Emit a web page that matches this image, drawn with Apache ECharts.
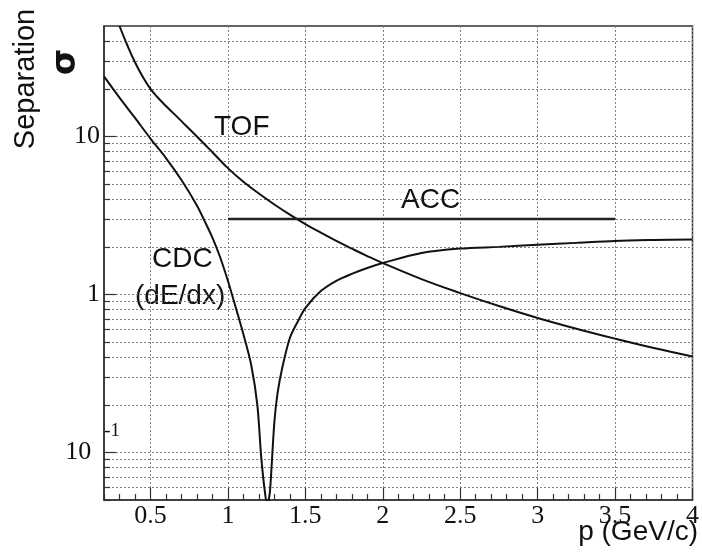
<!DOCTYPE html>
<html>
<head>
<meta charset="utf-8">
<title>Separation vs momentum</title>
<script src="https://cdn.jsdelivr.net/npm/echarts@6/dist/echarts.min.js"></script>
<style>
    html, body { margin: 0; padding: 0; background: #fff; }
    #main { width: 702px; height: 553px; }
</style>
</head>
<body>
<div id="main"></div>
<script>
// values: momentum p (GeV/c) and separation (sigma)
var tofP = [0.3, 0.35, 0.4, 0.45, 0.5, 0.55, 0.6, 0.7, 0.8, 0.9, 1.0, 1.1, 1.2, 1.3, 1.4, 1.5,
    1.6, 1.7, 1.8, 1.9, 2.0, 2.25, 2.5, 2.75, 3.0, 3.25, 3.5, 3.75, 4.0];
var tofSigma = [50, 37.9, 29.5, 23.9, 20, 17.5, 15.6, 12.5, 10, 7.95, 6.3, 5.16, 4.35, 3.71, 3.2, 2.79,
    2.46, 2.18, 1.95, 1.75, 1.58, 1.25, 1.02, 0.845, 0.71, 0.607, 0.525, 0.458, 0.405];

var cdcP = [0.2, 0.3, 0.4, 0.5, 0.6, 0.7, 0.8, 0.85, 0.9, 0.95, 1.0, 1.05, 1.1, 1.15, 1.19, 1.215,
    1.24, 1.255, 1.27, 1.28, 1.3, 1.32, 1.35, 1.4, 1.45, 1.5, 1.6, 1.7, 1.8, 1.9, 2.0,
    2.25, 2.5, 2.75, 3.0, 3.25, 3.5, 3.75, 4.0];
var cdcSigma = [24, 17.6, 13.1, 9.7, 7.3, 5.3, 3.66, 2.91, 2.29, 1.72, 1.22, 0.83, 0.56, 0.36, 0.2, 0.094,
    0.055, 0.047, 0.055, 0.075, 0.155, 0.235, 0.34, 0.53, 0.67, 0.82, 1.05, 1.22, 1.35, 1.47, 1.58,
    1.83, 1.95, 2.0, 2.06, 2.12, 2.18, 2.21, 2.23];

var accP = [1.0, 3.5];
var accSigma = [3, 3];

// tick labels / tick positions
var xMajor = [0.5, 1, 1.5, 2, 2.5, 3, 3.5, 4];
var xMinor = [0.2, 0.3, 0.4, 0.6, 0.7, 0.8, 0.9, 1.1, 1.2, 1.3, 1.4, 1.6, 1.7, 1.8, 1.9,
    2.1, 2.2, 2.3, 2.4, 2.6, 2.7, 2.8, 2.9, 3.1, 3.2, 3.3, 3.4, 3.6, 3.7, 3.8, 3.9];
var yMajor = [0.1, 1, 10];
var yMinor = [0.05, 0.06, 0.07, 0.08, 0.09, 0.2, 0.3, 0.4, 0.5, 0.6, 0.7, 0.8, 0.9,
    2, 3, 4, 5, 6, 7, 8, 9, 20, 30, 40];

function pairs(xs, ys) {
    return xs.map(function (x, i) {
        return [x, ys[i]];
    });
}

var ink = '#111';
var frame = '#333';
var serif = 'Liberation Serif';

var gridLine = {
    show: true,
    lineStyle: { color: '#808080', width: 1, type: [2, 2] }
};

function label(text, x, y, align, font, rot) {
    return {
        type: 'text',
        x: x,
        y: y,
        rotation: rot || 0,
        silent: true,
        style: {
            text: text,
            font: font || '28px "Liberation Sans"',
            fill: ink,
            align: align,
            verticalAlign: 'middle',
            textAlign: align,
            textVerticalAlign: 'middle'
        }
    };
}

var chart = echarts.init(document.getElementById('main'));

var option = {
    animation: false,
    backgroundColor: '#fff',
    grid: {
        left: 104,
        right: 6,
        top: 26,
        bottom: 53,
        show: true,
        borderColor: frame,
        borderWidth: 1.5,
        backgroundColor: '#fff'
    },
    xAxis: [{
        type: 'value',
        min: 0.2,
        max: 4,
        position: 'bottom',
        axisLine: { show: true, onZero: false, lineStyle: { color: frame, width: 1.5 } },
        axisTick: { show: true, inside: true, length: 12, customValues: xMajor, lineStyle: { color: frame, width: 1.2 } },
        axisLabel: {
            show: true,
            customValues: xMajor,
            margin: 3,
            color: ink,
            fontFamily: serif,
            fontSize: 26,
            formatter: function (v) { return String(v); }
        },
        splitLine: gridLine
    }, {
        // minor ticks only
        type: 'value',
        min: 0.2,
        max: 4,
        position: 'bottom',
        axisLine: { show: false },
        axisTick: { show: true, inside: true, length: 6, customValues: xMinor, lineStyle: { color: frame, width: 1.2 } },
        axisLabel: { show: false },
        splitLine: { show: false }
    }],
    yAxis: [{
        type: 'log',
        logBase: 10,
        min: 0.05,
        max: 50,
        position: 'left',
        axisLine: { show: true, onZero: false, lineStyle: { color: frame, width: 1.5 } },
        axisTick: { show: true, inside: true, length: 12, customValues: yMajor, lineStyle: { color: frame, width: 1.2 } },
        axisLabel: {
            show: true,
            customValues: yMajor,
            margin: -16,
            formatter: function (v) {
                if (v < 0.5) return '{m|10}{s|-1}';
                if (v < 5) return '{n|1}';
                return '{n|10}';
            },
            rich: {
                n: { fontFamily: serif, fontSize: 26, color: ink, padding: [0, 20, 0, 0] },
                m: { fontFamily: serif, fontSize: 26, color: ink, padding: [0, 13, 0, 0] },
                s: { fontFamily: serif, fontSize: 19, color: ink, padding: [0, 0, 42, 0] }
            }
        },
        splitLine: gridLine
    }, {
        // minor ticks + minor grid
        type: 'log',
        logBase: 10,
        min: 0.05,
        max: 50,
        position: 'left',
        axisLine: { show: false },
        axisTick: { show: true, inside: true, length: 6, customValues: yMinor, lineStyle: { color: frame, width: 1.2 } },
        axisLabel: { show: false },
        splitLine: gridLine
    }],
    series: [{
        name: 'TOF',
        type: 'line',
        xAxisIndex: 0,
        yAxisIndex: 0,
        data: pairs(tofP, tofSigma),
        showSymbol: false,
        smooth: 0.4,
        clip: true,
        silent: true,
        lineStyle: { color: ink, width: 2 }
    }, {
        name: 'CDC (dE/dx)',
        type: 'line',
        xAxisIndex: 0,
        yAxisIndex: 0,
        data: pairs(cdcP, cdcSigma),
        showSymbol: false,
        smooth: 0.3,
        clip: true,
        silent: true,
        lineStyle: { color: ink, width: 2 }
    }, {
        name: 'ACC',
        type: 'line',
        xAxisIndex: 0,
        yAxisIndex: 0,
        data: pairs(accP, accSigma),
        showSymbol: false,
        clip: true,
        silent: true,
        lineStyle: { color: '#222', width: 2.6 }
    }],
    graphic: [
        label('Separation', 26, 79, 'center', '29px "Liberation Sans"', Math.PI / 2),
        label('σ', 66, 62, 'center', 'bold 34px "DejaVu Sans"', Math.PI / 2),
        label('p (GeV/c)', 698, 532, 'right'),
        label('TOF', 214, 127, 'left'),
        label('ACC', 401, 200, 'left'),
        label('CDC', 152, 259, 'left'),
        label('(dE/dx)', 135, 296, 'left')
    ]
};

chart.setOption(option);
</script>
</body>
</html>
